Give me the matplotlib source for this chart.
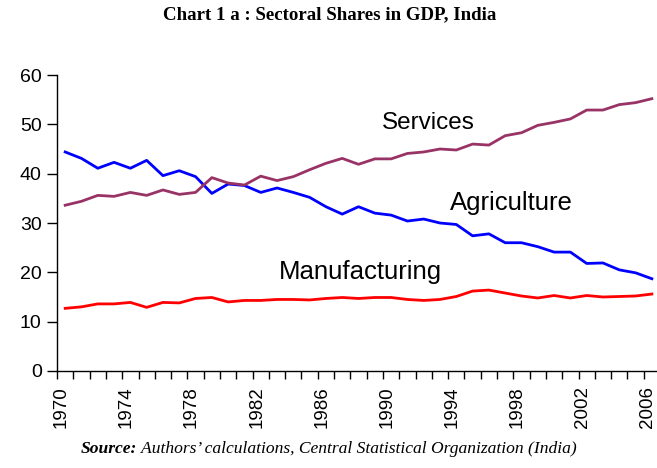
import numpy as np
import matplotlib
matplotlib.use("Agg")
import matplotlib.pyplot as plt

# ===== Data (share of GDP, %) =====
years = list(range(1970, 2007))
agriculture = [44.4, 43.1, 41.1, 42.3, 41.1, 42.7, 39.6, 40.6, 39.4, 36.0,
               37.9, 37.6, 36.2, 37.1, 36.2, 35.2, 33.3, 31.8, 33.3, 32.0,
               31.6, 30.4, 30.8, 30.0, 29.7, 27.4, 27.8, 26.0, 26.0, 25.2,
               24.1, 24.1, 21.8, 21.9, 20.5, 19.9, 18.7]
services = [33.6, 34.4, 35.6, 35.4, 36.2, 35.6, 36.7, 35.8, 36.2, 39.2,
            38.1, 37.7, 39.5, 38.6, 39.4, 40.8, 42.1, 43.1, 41.9, 43.0,
            43.0, 44.1, 44.4, 45.0, 44.8, 46.0, 45.8, 47.7, 48.3, 49.8,
            50.4, 51.1, 52.9, 52.9, 54.0, 54.4, 55.2]
manufacturing = [12.7, 13.0, 13.6, 13.6, 13.9, 12.9, 13.9, 13.8, 14.7, 14.9,
                 14.0, 14.3, 14.3, 14.5, 14.5, 14.4, 14.7, 14.9, 14.7, 14.9,
                 14.9, 14.5, 14.3, 14.5, 15.1, 16.2, 16.4, 15.8, 15.2, 14.8,
                 15.3, 14.8, 15.3, 15.0, 15.1, 15.2, 15.6]
tick_years = list(range(1970, 2007, 4))

# ===== Figure =====
plt.rcParams['font.family'] = ['Liberation Sans', 'DejaVu Sans']
fig = plt.figure(figsize=(6.57, 4.68), dpi=100)
ax = fig.add_axes([0.0868, 0.2073, 0.9178, 0.6324])

ax.plot(years, agriculture, color='#0000FF', lw=2.0)
ax.plot(years, services, color='#993366', lw=2.0)
ax.plot(years, manufacturing, color='#FF0000', lw=2.0)

# series labels
ax.text(1992.3, 50.3, 'Services', fontsize=17.5, ha='center', va='center')
ax.text(1997.4, 34.0, 'Agriculture', fontsize=18.5, ha='center', va='center')
ax.text(1988.1, 20.0, 'Manufacturing', fontsize=18.5, ha='center', va='center')

# axes styling: labels sit at the tick marks, data between them
ax.set_xlim(1969.5, 2006.5)
ax.set_ylim(0, 60)
ax.set_yticks(range(0, 61, 10))
ax.set_xticks([y - 0.25 for y in tick_years])
ax.set_xticklabels([str(y) for y in tick_years], rotation=90)
ax.set_xticks(np.arange(1969.5, 2006, 1), minor=True)
ax.tick_params(axis='x', which='major', length=0, pad=11, labelsize=13.5)
ax.tick_params(axis='x', which='minor', length=6, width=1, direction='out')
ax.tick_params(axis='y', length=7, width=1, labelsize=14, pad=4)
for side in ['top', 'right']:
    ax.spines[side].set_visible(False)
for side in ['left', 'bottom']:
    ax.spines[side].set_linewidth(1.0)

# title and source
fig.text(0.502, 0.968, 'Chart 1 a : Sectoral Shares in GDP, India',
         family='Liberation Serif', fontweight='bold', fontsize=13.6,
         ha='center', va='center')
t1 = fig.text(0.123, 0.032, 'Source:', family='Liberation Serif',
              fontweight='bold', style='italic', fontsize=12.6,
              ha='left', va='baseline')
ax.annotate(' Authors\u2019 calculations, Central Statistical Organization (India)',
            xy=(1, 0), xycoords=t1, xytext=(0, 0), textcoords='offset points',
            family='Liberation Serif', style='italic', fontsize=12.6,
            ha='left', va='bottom', annotation_clip=False)

fig.savefig('out.png', dpi=100)
